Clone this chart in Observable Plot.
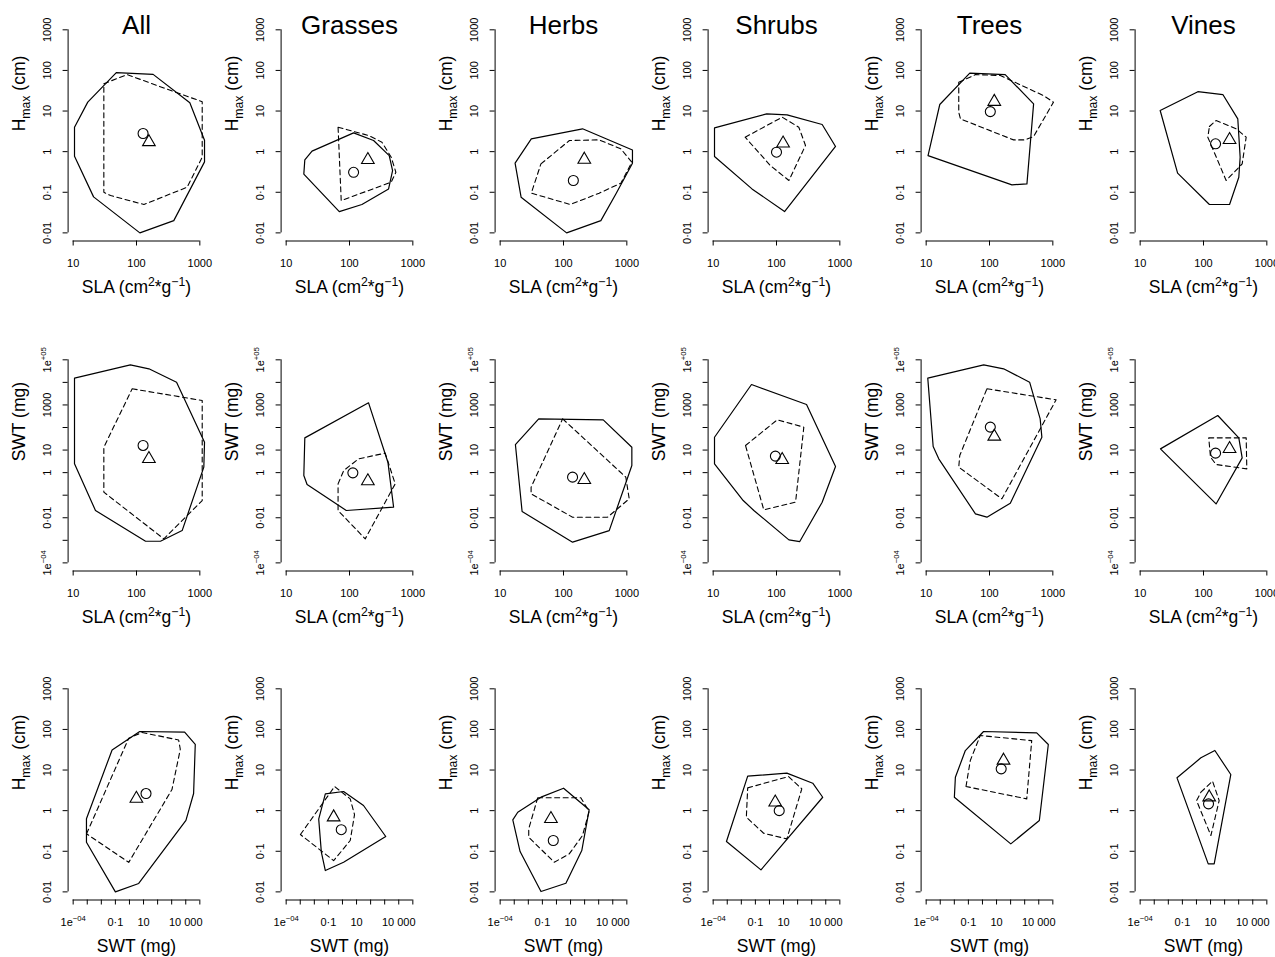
<!DOCTYPE html>
<html><head><meta charset="utf-8">
<script src="https://cdn.jsdelivr.net/npm/d3@7"></script>
<script src="https://cdn.jsdelivr.net/npm/@observablehq/plot@0.6"></script>
<style>
html,body{margin:0;padding:0;background:#fff;overflow:hidden;}
#chart{position:relative;width:1275px;height:957px;overflow:hidden;background:#fff;}
#chart svg{position:absolute;max-width:none !important;overflow:visible;}
</style></head><body><div id="chart"></div>
<script>
const groups = ["All", "Grasses", "Herbs", "Shrubs", "Trees", "Vines"];

// Axis ticks and labels
const slaTicks = [10, 100, 1000];
const slaTickLabels = ["10", "100", "1000"];
const hmaxTicks = [0.01, 0.1, 1, 10, 100, 1000];
const hmaxTickLabels = ["0·01", "0·1", "1", "10", "100", "1000"];
const swtTicks = [1e-4, 1e-3, 0.01, 0.1, 1, 10, 100, 1000, 1e4, 1e5];
const swtTickLabelsY = ["1e^{−04}", "", "0·01", "", "1", "10", "", "1000", "", "1e^{+05}"];
const swtTickLabelsX = ["1e^{−04}", "", "", "0·1", "", "10", "", "", "10 000", ""];

// Row 1: SLA (cm2/g) vs Hmax (cm) — [SLA, Hmax]
const slaH_All_solid = [[48,88],[183,80],[695,16],[1186,1.9],[1186,0.56],[388,0.02],[113,0.01],[21,0.077],[10.5,0.77],[10.5,4],[17,16.6]];
const slaH_All_dashed = [[30.5,47],[71,79],[270,37],[1090,17],[1090,0.73],[630,0.133],[131,0.05],[39,0.083],[30.5,0.1]];
const slaH_Grasses_solid = [[19,0.28],[19.7,0.63],[25.6,1.03],[116,2.9],[240,1.88],[424,0.8],[479,0.34],[414,0.121],[157,0.05],[69,0.0335]];
const slaH_Grasses_dashed = [[66,4],[200,2.5],[325,1.71],[456,0.73],[540,0.31],[456,0.177],[74,0.0625]];
const slaH_Herbs_solid = [[31,2.07],[200,3.65],[1227,1.1],[1227,0.52],[671,0.091],[389,0.02],[112,0.01],[21.4,0.0755],[17.2,0.52]];
const slaH_Herbs_dashed = [[44,0.5],[124,1.88],[366,1.95],[805,1.17],[1200,0.55],[805,0.167],[366,0.095],[128,0.05],[31,0.095]];
const slaH_Shrubs_solid = [[10.5,3.85],[70,8.5],[147,8.05],[526,4.66],[855,1.34],[134,0.0335],[41,0.121],[10.5,0.76]];
const slaH_Shrubs_dashed = [[32,2.27],[123,7.06],[225,4],[287,1.42],[157,0.195],[80,0.455]];
const slaH_Trees_solid = [[10.7,0.8],[16.4,14.5],[48.8,86],[177,79],[497,15],[390,0.161],[226,0.152]];
const slaH_Trees_dashed = [[32.7,51],[60,79],[148,75],[713,24],[1023,16.5],[497,2.36],[366,1.95],[240,1.95],[34.8,6.4],[32.7,9.3]];
const slaH_Vines_solid = [[20.7,10.3],[81.5,30],[202,25.5],[348,6.4],[379,0.73],[361,0.235],[258,0.05],[124,0.05],[39,0.295]];
const slaH_Vines_dashed = [[124,4.16],[158,5.85],[328,3.65],[472,2.27],[408,0.5],[228,0.195],[117,2.27]];
const slaH_circle = [[127,2.8],[116,0.31],[143,0.195],[100,0.97],[103,9.7],[155,1.56]];
const slaH_triangle = [[157,1.73],[195,0.63],[213,0.64],[127,1.6],[119,17],[258,1.95]];

// Row 2: SLA (cm2/g) vs SWT (mg) — [SLA, SWT]
const slaSwt_All_solid = [[10.5,15400],[80,60000],[157,40000],[429,10200],[1186,22],[1156,1.75],[526,0.0027],[239,0.00091],[139,0.00091],[22.5,0.021],[10.5,2.45]];
const slaSwt_All_dashed = [[85.5,5200],[1090,1570],[1090,0.058],[270,0.00116],[30.5,0.136],[30.5,13.4]];
const slaSwt_Grasses_solid = [[19.7,34.8],[200,1240],[404,2.9],[497,0.0294],[89,0.021],[21.4,0.297],[19,0.745]];
const slaSwt_Grasses_dashed = [[66,0.318],[81,1.24],[139,4.08],[366,7.3],[527,0.318],[177,0.00116],[66,0.021]];
const slaSwt_Herbs_solid = [[17.4,17.6],[40.6,242],[424,219],[1200,13.4],[1200,2.07],[527,0.0027],[139,0.00083],[22.2,0.0189]];
const slaSwt_Herbs_dashed = [[97,242],[964,0.63],[1090,0.069],[497,0.0106],[139,0.0106],[30.8,0.115],[30.8,0.226]];
const slaSwt_Shrubs_solid = [[10.5,37],[40.3,8050],[298,1047],[855,1.87],[526,0.049],[233,0.00088],[157,0.00105],[43.9,0.021],[29.8,0.058],[10.5,2.45]];
const slaSwt_Shrubs_dashed = [[32.4,15.9],[102.6,219],[270,103.5],[200,0.049],[63,0.0224]];
const slaSwt_Trees_solid = [[10.6,15400],[81,60000],[167,40000],[430,10200],[631,242],[671,37.3],[213,0.044],[91,0.0106],[60,0.0149],[15.8,4.08],[12.9,14.4]];
const slaSwt_Trees_dashed = [[91,5200],[1127,1690],[157,0.069],[32.7,1.75],[33.9,5.74]];
const slaSwt_Vines_solid = [[20.9,11.3],[168,340],[361,34.8],[408,4.5],[158,0.041]];
const slaSwt_Vines_dashed = [[121,34.8],[472,34.8],[483,1.47],[158,2.29],[129,4.84]];
const slaSwt_circle = [[127,16],[113,0.98],[139,0.63],[96,5.4],[103,104],[155,7.3]];
const slaSwt_triangle = [[157,4.1],[195,0.42],[213,0.48],[123,3.7],[119,40],[258,11.3]];

// Row 3: SWT (mg) vs Hmax (cm) — [SWT, Hmax]
const swtH_All_solid = [[0.00088,0.634],[0.0583,31.3],[5.35,89],[8320,86],[47400,43],[36100,2.64],[10300,0.575],[4.54,0.0161],[0.1,0.01],[0.00088,0.167]];
const swtH_All_dashed = [[0.00089,0.269],[0.887,61],[7.83,84],[3120,55],[4090,32.5],[1047,3.31],[0.887,0.0533]];
const swtH_Grasses_solid = [[0.0205,0.621],[0.0607,2.59],[1.2,2.96],[31.3,1.34],[1189,0.231],[1.2,0.0537],[0.0607,0.0335],[0.0316,0.0955]];
const swtH_Grasses_dashed = [[0.00103,0.258],[0.277,3.93],[3.56,1.95],[7.2,0.8],[3.56,0.184],[0.236,0.059]];
const swtH_Herbs_solid = [[0.00079,0.593],[0.00178,0.916],[0.0796,2.15],[3.2,3.57],[209,1.05],[63,0.104],[4.68,0.0163],[0.0796,0.0102],[0.0026,0.0984]];
const swtH_Herbs_dashed = [[0.0462,2.07],[53.8,2.07],[209,0.955],[70.6,0.244],[8.05,0.086],[0.698,0.0537],[0.0107,0.222],[0.0107,0.356]];
const swtH_Shrubs_solid = [[0.00088,0.174],[0.0284,7.06],[17.2,8.4],[1189,4.74],[6070,2.14],[0.249,0.0348]];
const swtH_Shrubs_dashed = [[0.0284,3.64],[22.6,6.92],[198,3.44],[17.2,0.202],[0.385,0.278],[0.0228,0.69]];
const swtH_Trees_solid = [[0.0101,2.14],[0.0119,6.67],[0.0607,30.2],[1.2,89],[7140,82],[47800,42.6],[11000,0.571],[103,0.152]];
const swtH_Trees_dashed = [[0.0676,3.93],[0.137,17.2],[0.698,71],[3160,53],[1400,1.95],[92.7,2.36]];
const swtH_Vines_solid = [[0.0415,6.43],[2.07,20],[20.3,30.3],[275,7.76],[18.2,0.049],[6.84,0.049]];
const swtH_Vines_dashed = [[2.07,2.85],[13.9,5.32],[41,1.77],[10.6,0.244],[1.02,1.76]];
const swtH_circle = [[15,2.64],[0.82,0.34],[0.594,0.184],[4.93,1.0],[21.4,10.7],[7.2,1.47]];
const swtH_triangle = [[3.1,1.98],[0.236,0.69],[0.405,0.628],[2.57,1.6],[31.3,17.2],[8.05,2.14]];

// ---- configuration built from the arrays ----
const axes = {
  sla: {ticks: slaTicks, labels: slaTickLabels},
  hmax: {ticks: hmaxTicks, labels: hmaxTickLabels},
  swtY: {ticks: swtTicks, labels: swtTickLabelsY},
  swtX: {ticks: swtTicks, labels: swtTickLabelsX}
};
const rows = [
  {x: "sla", y: "hmax", xTitle: "SLA (cm^{2}*g^{−1})", yTitle: "H_{max} (cm)",
   solid: [slaH_All_solid, slaH_Grasses_solid, slaH_Herbs_solid, slaH_Shrubs_solid, slaH_Trees_solid, slaH_Vines_solid],
   dashed: [slaH_All_dashed, slaH_Grasses_dashed, slaH_Herbs_dashed, slaH_Shrubs_dashed, slaH_Trees_dashed, slaH_Vines_dashed],
   circle: slaH_circle, triangle: slaH_triangle},
  {x: "sla", y: "swtY", xTitle: "SLA (cm^{2}*g^{−1})", yTitle: "SWT (mg)",
   solid: [slaSwt_All_solid, slaSwt_Grasses_solid, slaSwt_Herbs_solid, slaSwt_Shrubs_solid, slaSwt_Trees_solid, slaSwt_Vines_solid],
   dashed: [slaSwt_All_dashed, slaSwt_Grasses_dashed, slaSwt_Herbs_dashed, slaSwt_Shrubs_dashed, slaSwt_Trees_dashed, slaSwt_Vines_dashed],
   circle: slaSwt_circle, triangle: slaSwt_triangle},
  {x: "swtX", y: "hmax", xTitle: "SWT (mg)", yTitle: "H_{max} (cm)",
   solid: [swtH_All_solid, swtH_Grasses_solid, swtH_Herbs_solid, swtH_Shrubs_solid, swtH_Trees_solid, swtH_Vines_solid],
   dashed: [swtH_All_dashed, swtH_Grasses_dashed, swtH_Herbs_dashed, swtH_Shrubs_dashed, swtH_Trees_dashed, swtH_Vines_dashed],
   circle: swtH_circle, triangle: swtH_triangle}
];

function padDomain(t) {
  const lo = Math.log10(t[0]), hi = Math.log10(t[t.length - 1]), p = 0.04 * (hi - lo);
  return [Math.pow(10, lo - p), Math.pow(10, hi + p)];
}

// Convert ^{..} and _{..} into real super/subscript tspans
function richify(svg) {
  svg.querySelectorAll("text").forEach(t => {
    const s = t.textContent;
    if (!/[\^_]\{/.test(s)) return;
    const fs = parseFloat(getComputedStyle(t).fontSize) || 12;
    const parts = [];
    const re = /([\^_])\{([^}]*)\}|([^\^_]+)/g;
    let m;
    while ((m = re.exec(s))) {
      if (m[3] !== undefined) parts.push({text: m[3], kind: "n"});
      else parts.push({text: m[2], kind: m[1] === "^" ? "sup" : "sub"});
    }
    t.textContent = "";
    let shift = 0;
    for (const p of parts) {
      const ts = document.createElementNS("http://www.w3.org/2000/svg", "tspan");
      const target = p.kind === "sup" ? -0.4 * fs : p.kind === "sub" ? 0.28 * fs : 0;
      if (p.kind !== "n") ts.setAttribute("font-size", (0.7 * fs).toFixed(2));
      if (target - shift !== 0) ts.setAttribute("dy", (target - shift).toFixed(2));
      shift = target;
      ts.textContent = p.text;
      t.appendChild(ts);
    }
  });
}

const W = 214, H = 330;
const colStep = 213.3, rowTops = [0, 330, 659];
const mL = 67.6, mT = 21.2, plotW = 136.8, plotH = 219.3;
const chart = document.getElementById("chart");

rows.forEach((row, r) => {
  const X = axes[row.x], Y = axes[row.y];
  const xd = padDomain(X.ticks), yd = padDomain(Y.ticks);
  groups.forEach((g, c) => {
    const px = d => d[0], py = d => d[1];
    const marks = [
      Plot.ruleY([yd[0]], {x1: X.ticks[0], x2: X.ticks[X.ticks.length - 1], stroke: "black", strokeWidth: 1}),
      Plot.ruleX([xd[0]], {y1: Y.ticks[0], y2: Y.ticks[Y.ticks.length - 1], stroke: "black", strokeWidth: 1}),
      Plot.axisX({ticks: X.ticks, tickSize: 5, tickPadding: 13, fontSize: 11, label: null,
        tickFormat: d => X.labels[X.ticks.indexOf(d)]}),
      Plot.axisY({ticks: Y.ticks, tickSize: 5, tickPadding: 12.5, tickRotate: -90, textAnchor: "middle", lineAnchor: "bottom",
        fontSize: 11, label: null, tickFormat: d => Y.labels[Y.ticks.indexOf(d)]}),
      Plot.line(row.solid[c], {x: px, y: py, curve: "linear-closed", stroke: "black", strokeWidth: 1.2}),
      Plot.line(row.dashed[c], {x: px, y: py, curve: "linear-closed", stroke: "black", strokeWidth: 1.1, strokeDasharray: "5,3.5"}),
      Plot.dot([row.circle[c]], {x: px, y: py, r: 5, stroke: "black", strokeWidth: 1.1, fill: "none"}),
      Plot.dot([row.triangle[c]], {x: px, y: py, symbol: "triangle", r: 4.7, stroke: "black", strokeWidth: 1.1, fill: "none"}),
      Plot.text([row.xTitle], {text: d => d, frameAnchor: "bottom", dy: 46, fontSize: 17.5, lineAnchor: "middle"}),
      Plot.text([row.yTitle], {text: d => d, frameAnchor: "left", dx: -48.6, rotate: -90, fontSize: 17.5, lineAnchor: "middle"})
    ];
    if (r === 0) marks.push(Plot.text([g], {text: d => d, frameAnchor: "top", dy: 11.8, fontSize: 26, lineAnchor: "bottom"}));
    const svg = Plot.plot({
      width: W, height: H,
      marginLeft: mL, marginTop: mT, marginRight: W - mL - plotW, marginBottom: H - mT - plotH,
      x: {type: "log", domain: xd},
      y: {type: "log", domain: yd},
      style: {fontFamily: "'Liberation Sans', Arial, Helvetica, sans-serif", background: "transparent", color: "black", overflow: "visible"},
      marks
    });
    svg.style.left = (c * colStep) + "px";
    svg.style.top = rowTops[r] + "px";
    chart.appendChild(svg);
    richify(svg);
  });
});
</script></body></html>
